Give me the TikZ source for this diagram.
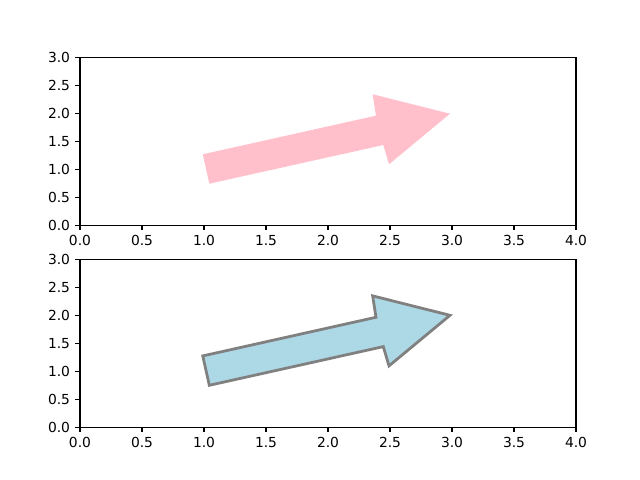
\documentclass[tikz,border=0pt]{standalone}
\usepackage{fontspec}
\setmainfont{DejaVu Sans}
\usetikzlibrary{calc}
\definecolor{arrowpink}{HTML}{FFC0CB}
\definecolor{arrowblue}{HTML}{ADD8E6}
\definecolor{arrowedge}{HTML}{808080}
\tikzset{
  axisframe/.style={line width=0.8pt, black},
  tickmark/.style={line width=0.8pt, black},
  ticklabel/.style={font=\fontsize{10}{12}\selectfont, inner sep=0pt, text=black},
}
% frame, ticks and tick labels of one set of axes (data units)
\newcommand{\plotframe}[1]{%
  \draw[axisframe] (0,0) rectangle (4,3);
  \foreach \t [count=\i] in {0.0,0.5,1.0,1.5,2.0,2.5,3.0,3.5,4.0} {
    \draw[tickmark] (\t,0) -- ++(0,-3.5pt);
    \node[ticklabel, anchor=north] (#1x\i) at ([yshift=-7pt]\t,0) {\t};
  }
  \foreach \t [count=\i] in {0.0,0.5,1.0,1.5,2.0,2.5,3.0} {
    \draw[tickmark] (0,\t) -- ++(-3.5pt,0);
    \node[ticklabel, anchor=east] (#1y\i) at ([xshift=-7pt]0,\t) {\t};
  }}
% the arrow patch, from (1,1) to (3,2)
\newcommand{\arrowpatch}[1]{%
  \path[#1] (0.990,1.273) -- (2.387,1.963) -- (2.360,2.345) -- (2.984,1.998)
    -- (2.492,1.095) -- (2.446,1.439) -- (1.043,0.748) -- cycle;}

\begin{document}
\begin{tikzpicture}
  \useasboundingbox (0,0) rectangle (6.4in,4.8in);
  % upper axes
  \begin{scope}[shift={(0.8in,2.544in)}, x=1.24in, y=0.56in]
    \arrowpatch{fill=arrowpink}
    \plotframe{top}
  \end{scope}
  % lower axes
  \begin{scope}[shift={(0.8in,0.528in)}, x=1.24in, y=0.56in]
    \arrowpatch{fill=arrowblue, draw=arrowedge, line width=2pt, line join=miter}
    \plotframe{bot}
  \end{scope}
\end{tikzpicture}
\end{document}
